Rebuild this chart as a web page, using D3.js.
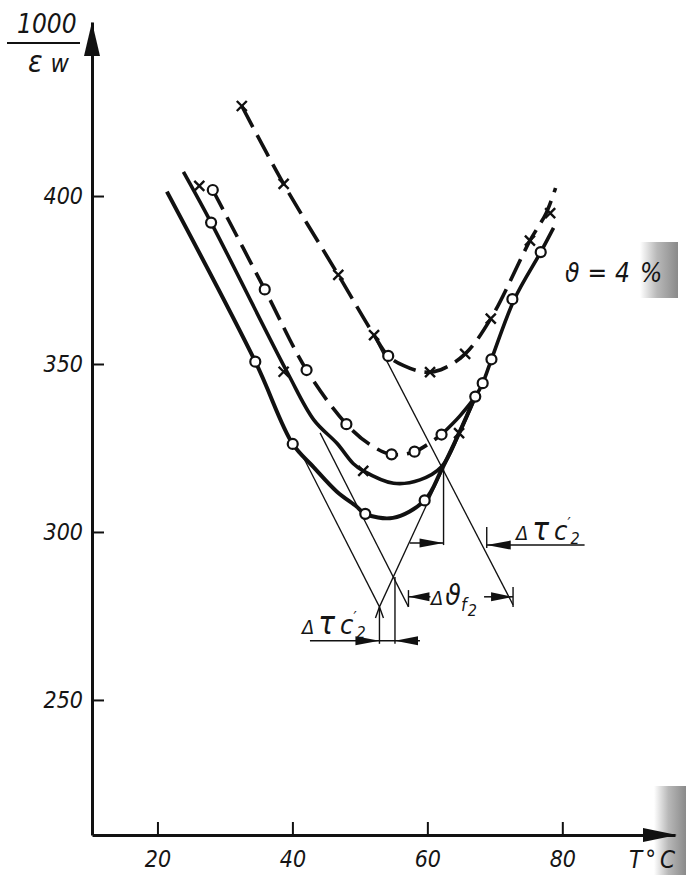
<!DOCTYPE html>
<html>
<head>
<meta charset="utf-8">
<script src="https://cdn.jsdelivr.net/npm/d3@7"></script>
<style>
  html, body { margin: 0; padding: 0; background: #fff; }
  svg { display: block; }
  text {
    font-family: "DejaVu Sans Condensed", "DejaVu Sans", sans-serif;
    font-stretch: condensed;
    font-style: oblique;
    fill: #151515;
  }
</style>
</head>
<body>
<svg id="chart" width="686" height="875"></svg>
<script>
// Axis ticks: temperature T (°C) and ordinate 1000/εw
const xTicks = [20, 40, 60, 80];
const yTicks = [250, 300, 350, 400];

// Curve A (dashed, crosses): path points [T, 1000/εw]
const curveA = [[32.5,426.8],[38.7,403.6],[46.8,376.5],[52.1,358.6],[54.2,352.4],[56.5,349.5],[59.5,347.6],[62.0,348.3],[65.6,353.0],[69.4,363.5],[75.2,386.7],[77.6,394.9],[79.0,402.4]];
const crossesA = [[32.5,426.8],[38.7,403.6],[46.8,376.5],[52.1,358.6],[60.4,347.6],[65.6,353.0],[69.4,363.5],[75.2,386.7],[78.2,394.9]];
const circlesA = [[54.2,352.4]];

// Curve B (dashed with circles, solid on the rising branch)
const curveBDashed = [[28.2,401.8],[35.9,372.2],[42.1,348.2],[48.0,332.1],[51.5,326.0],[54.7,323.1],[58.1,323.9],[62.1,329.0]];
const curveBSolid = [[62.1,329.0],[64.8,334.5],[67.1,340.3],[68.2,344.3],[69.5,351.4],[72.9,369.3],[76.8,383.3],[78.7,390.5]];
const circlesB = [[28.2,401.8],[35.9,372.2],[42.1,348.2],[48.0,332.1],[54.7,323.1],[58.1,323.9],[62.1,329.0],[67.1,340.3],[68.2,344.3],[69.5,351.4],[72.6,369.3],[76.8,383.3]];

// Curve C (solid, crosses)
const curveC = [[23.85,407.2],[27.95,392.1],[39.2,347.7],[43.2,333.3],[46.6,326.4],[49.0,320.4],[50.5,318.2],[55.0,314.5],[58.9,315.5],[62.1,319.4],[64.7,329.4],[67.1,340.3]];
const crossesC = [[26.2,403.0],[38.7,347.7],[50.5,318.2],[64.7,329.4]];
const circlesC = [[27.95,392.1]];

// Curve D (solid, circles, lowest)
const curveD = [[21.4,401.3],[34.5,350.7],[40.05,326.2],[43.1,319.4],[46.6,312.0],[49.5,307.6],[50.8,305.4],[54.9,304.2],[59.6,309.4],[62.1,318.5],[64.7,329.4],[67.1,340.3]];
const circlesD = [[34.5,350.7],[40.05,326.2],[50.8,305.4],[59.6,309.4]];

// Tangent construction lines
const tangentA  = [[52.0,358.6],[72.7,278.3]];
const tangentD  = [[41.6,322.3],[52.9,277.7]];
const tangentC  = [[44.1,329.5],[57.2,277.7]];
const tangentDR = [[62.4,319.0],[52.9,277.7]];

// Dimension marks (temperatures bounding each interval)
const dimLowerT = [52.9, 55.2];   // Δτc'2 (lower)
const dimUpperT = [62.4, 68.8];   // Δτc'2 (upper)
const dimThetaT = [57.2, 72.7];   // Δϑf2

const svg = d3.select("#chart");
const x = d3.scaleLinear().domain([10.3, 96.7]).range([92, 675]);
const y = d3.scaleLinear().domain([209.8, 451.8]).range([835, 22]);

// scan shading along the right page edge
const defs = svg.append("defs");
const g1 = defs.append("linearGradient").attr("id", "edgeShade");
g1.append("stop").attr("offset", "0%").attr("stop-color", "#ffffff");
g1.append("stop").attr("offset", "45%").attr("stop-color", "#b8b8b8");
g1.append("stop").attr("offset", "100%").attr("stop-color", "#8a8a8a");
svg.append("rect").attr("x", 640).attr("y", 242).attr("width", 38).attr("height", 56).attr("fill", "url(#edgeShade)");
svg.append("rect").attr("x", 654).attr("y", 786).attr("width", 32).attr("height", 89).attr("fill", "url(#edgeShade)");

// Axes
const yAxis = svg.append("g").attr("transform", `translate(${x(10.3)},0)`)
  .call(d3.axisLeft(y).tickValues(yTicks).tickSizeInner(-12).tickSizeOuter(0).tickPadding(9).tickFormat(d3.format("d")));
const xAxis = svg.append("g").attr("transform", `translate(0,${y(209.8)})`)
  .call(d3.axisBottom(x).tickValues(xTicks).tickSizeInner(-13).tickSizeOuter(0).tickPadding(16).tickFormat(d3.format("d")));
[yAxis, xAxis].forEach(a => {
  a.select(".domain").attr("stroke", "#111").attr("stroke-width", 3);
  a.selectAll(".tick line").attr("stroke", "#111").attr("stroke-width", 2);
  a.selectAll(".tick text").attr("font-size", 23).attr("fill", "#151515")
    .style("font-family", '"DejaVu Sans Condensed","DejaVu Sans",sans-serif').style("font-style", "oblique");
});

// axis arrowheads
const x0 = x(10.3), yb = y(209.8);
svg.append("path").attr("d", `M${x0},${y(451.8)}L${x0 - 8},${y(451.8) + 34}L${x0 + 8},${y(451.8) + 34}Z`).attr("fill", "#111");
svg.append("path").attr("d", `M${x(96.7) + 2},${yb}L${x(96.7) - 32},${yb - 7}L${x(96.7) - 32},${yb + 7}Z`).attr("fill", "#111");

// axis titles
svg.append("text").attr("x", 17).attr("y", 33).attr("font-size", 26).text("1000");
svg.append("line").attr("x1", 7).attr("x2", 80).attr("y1", 43).attr("y2", 43).attr("stroke", "#111").attr("stroke-width", 2);
const ew = svg.append("text").attr("x", 28).attr("y", 72);
ew.append("tspan").attr("font-size", 30).text("ε");
ew.append("tspan").attr("font-size", 25).attr("dx", 8).text("w");
const tc = svg.append("text").attr("x", 629).attr("y", 868).attr("font-size", 24);
tc.append("tspan").text("T");
tc.append("tspan").attr("dx", 3).text("°");
tc.append("tspan").attr("dx", 4).text("C");

// curves
const line = d3.line().x(d => x(d[0])).y(d => y(d[1])).curve(d3.curveCatmullRom.alpha(0.5));
const straight = d3.line().x(d => x(d[0])).y(d => y(d[1]));

function thick(data, dash, w) {
  svg.append("path").attr("d", line(data)).attr("fill", "none").attr("stroke", "#111")
    .attr("stroke-width", w).attr("stroke-linecap", "butt").attr("stroke-dasharray", dash || null);
}
// thin tangents first so curves overlay them
[tangentA, tangentD, tangentC, tangentDR].forEach(t =>
  svg.append("path").attr("d", straight(t)).attr("stroke", "#111").attr("stroke-width", 1.3).attr("fill", "none"));

thick(curveA, "24 9", 3.6);
thick(curveBDashed, "22 9", 3.6);
thick(curveBSolid, null, 3.6);
thick(curveC, null, 3.6);
thick(curveD, null, 4);

function crosses(data) {
  svg.append("g").selectAll("path").data(data).join("path")
    .attr("transform", d => `translate(${x(d[0])},${y(d[1])})`)
    .attr("d", "M-5,-5L5,5M-5,5L5,-5").attr("stroke", "#111").attr("stroke-width", 2.4).attr("fill", "none");
}
function circles(data) {
  svg.append("g").selectAll("circle").data(data).join("circle")
    .attr("cx", d => x(d[0])).attr("cy", d => y(d[1])).attr("r", 5)
    .attr("fill", "#fff").attr("stroke", "#111").attr("stroke-width", 2.2);
}
crosses(crossesA); circles(circlesA);
circles(circlesB);
crosses(crossesC); circles(circlesC);
circles(circlesD);

// dimension helpers
function seg(x1, y1, x2, y2, w) {
  svg.append("line").attr("x1", x1).attr("y1", y1).attr("x2", x2).attr("y2", y2)
    .attr("stroke", "#111").attr("stroke-width", w || 1.4);
}
function head(tipX, tipY, dir, len, hw) {
  const bx = tipX - dir * len;
  svg.append("path").attr("d", `M${tipX},${tipY}L${bx},${tipY - hw}L${bx},${tipY + hw}Z`).attr("fill", "#111");
}

// lower Δτc'2
{
  const yl = y(267.6), xa = x(dimLowerT[0]), xb = x(dimLowerT[1]);
  seg(xa, y(277.7), xa, yl + 3);
  seg(xb, y(286.6), xb, yl + 3);
  seg(x(42.6), yl, x(58.9), yl, 1.6);
  head(xa, yl, 1, 24, 4.5);
  head(xb, yl, -1, 23, 4.5);
  svg.append("path").attr("d", `M${xa - 4},${y(277.7) + 11}L${xa},${y(277.7)}L${xa + 4},${y(277.7) + 11}`)
    .attr("stroke", "#111").attr("stroke-width", 1.4).attr("fill", "none");
}
// upper Δτc'2
{
  const xa = x(dimUpperT[0]), xb = x(dimUpperT[1]);
  seg(xa, y(319.0), xa, y(296.1));
  seg(x(57.4), y(296.7), xa, y(296.7), 1.5);
  head(xa, y(296.7), 1, 24, 4.5);
  seg(xb, y(301.5), xb, y(295.2));
  seg(xb, y(296.1), x(83.3), y(296.1), 1.5);
  head(xb, y(296.1), -1, 24, 4.5);
}
// Δϑf2
{
  const yl = y(280.7), xa = x(dimThetaT[0]), xb = x(dimThetaT[1]);
  seg(xa, y(282.7), xa, y(277.7));
  seg(xb, y(283.6), xb, y(277.7));
  seg(xa, yl, xa + 22, yl, 1.5);
  seg(xb - 29, yl, xb, yl, 1.5);
  head(xa, yl, -1, 21, 4.5);
  head(xb, yl, 1, 22, 4.5);
}

// labels
function tauLabel(px, py) {
  const t = svg.append("text").attr("x", px).attr("y", py).attr("font-size", 22);
  t.append("tspan").attr("font-size", 20).text("Δ");
  t.append("tspan").attr("font-size", 31).attr("dx", 4).text("τ");
  t.append("tspan").attr("font-size", 27).attr("dx", 5).text("c");
  t.append("tspan").attr("font-size", 15).attr("dx", 0).attr("dy", -11).text("′");
  t.append("tspan").attr("font-size", 16).attr("dx", 0).attr("dy", 15).text("2");
}
tauLabel(516, 540);
tauLabel(302, 634);

{
  const t = svg.append("text").attr("x", 431).attr("y", 605).attr("font-size", 22);
  t.append("tspan").attr("font-size", 20).text("Δ");
  t.append("tspan").attr("font-size", 28).attr("dx", 2).text("ϑ");
  t.append("tspan").attr("font-size", 18).attr("dx", 0).attr("dy", 6).text("f");
  t.append("tspan").attr("font-size", 16).attr("dx", 1).attr("dy", 5).text("2");
}
{
  const t = svg.append("text").attr("x", 565).attr("y", 282).attr("font-size", 26);
  t.append("tspan").text("ϑ");
  t.append("tspan").attr("dx", 8).text("=");
  t.append("tspan").attr("dx", 8).text("4");
  t.append("tspan").attr("dx", 10).text("%");
}
</script>
</body>
</html>
